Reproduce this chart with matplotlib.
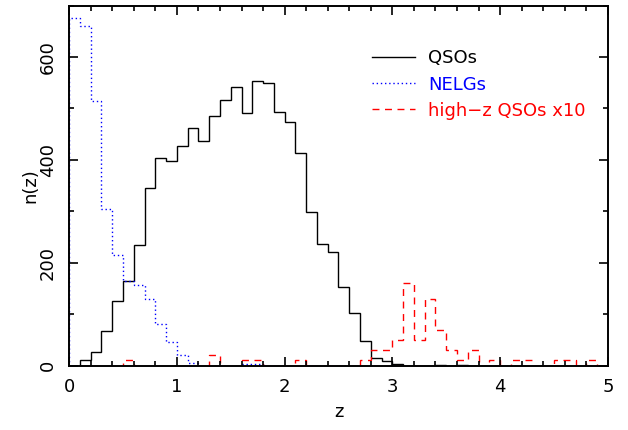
import numpy as np
from matplotlib import pyplot as plt
from matplotlib.ticker import MultipleLocator

# bin edges: 0.0 .. 5.0 in steps of 0.1
edges = np.round(np.arange(0, 5.01, 0.1), 2)

qso = [0, 11, 26, 68, 125, 165, 234, 346, 403, 397,
       427, 462, 436, 486, 516, 542, 492, 554, 549, 494,
       473, 414, 299, 236, 221, 153, 102, 47, 14, 8,
       3, 0, 0, 0, 1, 0, 1, 0, 0, 0,
       0, 0, 0, 0, 0, 0, 0, 0, 0, 0]

nelg = [676, 661, 514, 305, 214, 164, 157, 130, 81, 46,
        21, 4, 0, 0, 0, 0, 2, 2, 0, 0,
        0, 0, 0, 0, 0, 0, 0, 0, 0, 0,
        0, 0, 0, 0, 0, 0, 0, 0, 0, 0,
        0, 0, 0, 0, 0, 0, 0, 0, 0, 0]

# high-z QSOs, already multiplied by 10
hiz = [0, 0, 0, 0, 0, 10, 0, 0, 0, 0,
       0, 0, 0, 20, 0, 0, 10, 10, 0, 0,
       0, 10, 0, 0, 0, 0, 0, 10, 30, 30,
       50, 160, 50, 130, 70, 30, 10, 30, 0, 10,
       0, 10, 10, 0, 0, 10, 10, 0, 10, 0]

labels = ["QSOs", "NELGs", "high\u2212z QSOs x10"]
colors = ["black", "blue", "red"]

plt.rcParams['font.family'] = ['DejaVu Sans']
fig = plt.figure(figsize=(6.28, 4.30), dpi=100)
ax = fig.add_axes([0.110, 0.150, 0.858, 0.837])

ax.stairs(qso, edges, color=colors[0], lw=1.0, ls='-', label=labels[0])
ax.stairs(nelg, edges, color=colors[1], lw=1.0, ls=(0, (1, 2)), label=labels[1])
ax.stairs(hiz, edges, color=colors[2], lw=1.0, ls=(0, (5, 4)), label=labels[2])

ax.set_xlim(0, 5)
ax.set_ylim(0, 700)
ax.xaxis.set_major_locator(MultipleLocator(1))
ax.xaxis.set_minor_locator(MultipleLocator(0.2))
ax.yaxis.set_major_locator(MultipleLocator(200))
ax.yaxis.set_minor_locator(MultipleLocator(100))
ax.tick_params(which='both', direction='in', top=True, right=True, labelsize=13, width=1.2)
ax.tick_params(which='major', length=6.5, pad=9)
ax.tick_params(which='minor', length=3.5)
for lab in ax.get_yticklabels():
    lab.set_rotation(90)
    lab.set_va('center')
for s in ax.spines.values():
    s.set_linewidth(1.4)

ax.set_xlabel("z", fontsize=13)
ax.set_ylabel("n(z)", fontsize=13)
ax.xaxis.set_label_coords(0.5, -0.105)
ax.yaxis.set_label_coords(-0.055, 0.5)

leg = ax.legend(loc='upper left', bbox_to_anchor=(0.562, 0.878), frameon=False,
                fontsize=13, handlelength=2.4, handletextpad=0.7, labelspacing=0.45,
                borderpad=0, borderaxespad=0, labelcolor=colors)

fig.savefig("out.png", dpi=100)
